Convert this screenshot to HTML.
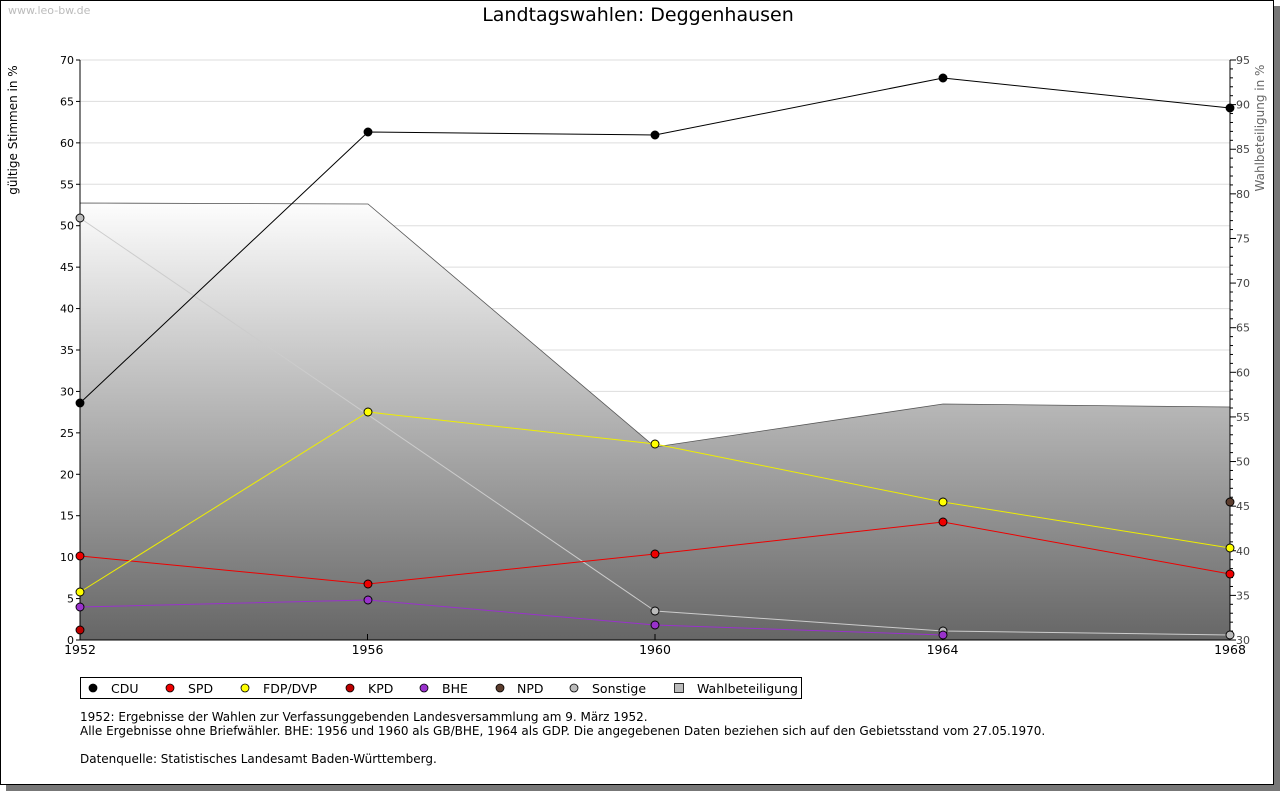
<!DOCTYPE html><html><head><style>body{margin:0;background:#fff}svg{display:block;font-family:"DejaVu Sans","Liberation Sans",sans-serif}</style></head><body>
<svg width="1280" height="791" xmlns="http://www.w3.org/2000/svg">
<defs><linearGradient id="g" x1="0" y1="203" x2="0" y2="640" gradientUnits="userSpaceOnUse"><stop offset="0" stop-color="#fdfdfd"/><stop offset="1" stop-color="#666"/></linearGradient></defs>
<rect x="6" y="6" width="1274" height="785" fill="#777"/>
<rect x="0.5" y="0.5" width="1273" height="784" fill="#fff" stroke="#000"/>
<text x="8" y="14" font-size="11" fill="#bbb">www.leo-bw.de</text>
<text x="638" y="21" font-size="19" text-anchor="middle">Landtagswahlen: Deggenhausen</text>
<g stroke="#ddd" stroke-width="1" id="grid"></g>
<polygon points="80,203 368,204 655,447 943,404 1230,407 1230,640 80,640" fill="url(#g)" stroke="#555" stroke-width="0.8"/>
<line x1="80" y1="640" x2="1230" y2="640" stroke="#000"/>
<line x1="80" y1="60" x2="80" y2="640" stroke="#000"/>
<line x1="1230" y1="60" x2="1230" y2="640" stroke="#000"/>
<g id="ax" font-size="11"></g>
<text transform="translate(17,130) rotate(-90)" font-size="12" text-anchor="middle">gültige Stimmen in %</text>
<text transform="translate(1264,128) rotate(-90)" font-size="12" text-anchor="middle" fill="#666">Wahlbeteiligung in %</text>
<g fill="none" stroke-width="1">
<polyline points="80,218 655,611 943,631 1230,635" stroke="#ccc"/>
<polyline points="80,607 368,600 655,625 943,635" stroke="#9932cc"/>
<polyline points="80,556 368,584 655,554 943,522 1230,574" stroke="#e00"/>
<polyline points="80,592 368,412 655,444 943,502 1230,548" stroke="#ee0"/>
<polyline points="80,403 368,132 655,135 943,78 1230,108" stroke="#000"/>
</g>
<g stroke="#000" stroke-width="0.9" id="mk"></g>
<rect x="80.5" y="677.5" width="721" height="21" fill="#fff" stroke="#000"/>
<g font-size="12.5" stroke="#000" stroke-width="0.8">
<circle cx="93" cy="688" r="4" fill="#000"/><text x="111" y="693" stroke="none">CDU</text>
<circle cx="170" cy="688" r="4" fill="#e00"/><text x="188" y="693" stroke="none">SPD</text>
<circle cx="245" cy="688" r="4" fill="#ff0"/><text x="263" y="693" stroke="none">FDP/DVP</text>
<circle cx="350" cy="688" r="4" fill="#b00"/><text x="368" y="693" stroke="none">KPD</text>
<circle cx="424" cy="688" r="4" fill="#9932cc"/><text x="442" y="693" stroke="none">BHE</text>
<circle cx="500" cy="688" r="4" fill="#5c3d2e"/><text x="517" y="693" stroke="none">NPD</text>
<circle cx="574" cy="688" r="4" fill="#bbb"/><text x="592" y="693" stroke="none">Sonstige</text>
<rect x="674.5" y="683.5" width="9" height="9" fill="#bbb"/><text x="697" y="693" stroke="none">Wahlbeteiligung</text>
</g>
<g font-size="12">
<text x="80" y="721">1952: Ergebnisse der Wahlen zur Verfassunggebenden Landesversammlung am 9. März 1952.</text>
<text x="80" y="735">Alle Ergebnisse ohne Briefwähler. BHE: 1956 und 1960 als GB/BHE, 1964 als GDP. Die angegebenen Daten beziehen sich auf den Gebietsstand vom 27.05.1970.</text>
<text x="80" y="763">Datenquelle: Statistisches Landesamt Baden-Württemberg.</text>
</g>
<script>
var ns="http://www.w3.org/2000/svg",g=document.getElementById("grid"),a=document.getElementById("ax"),m=document.getElementById("mk");
function el(p,t,at,tx){var e=document.createElementNS(ns,t);for(var k in at)e.setAttribute(k,at[k]);if(tx!=null)e.textContent=tx;p.appendChild(e);return e;}
for(var v=5;v<=70;v+=5){var y=640-v*580/70;el(g,"line",{x1:80,x2:1230,y1:y,y2:y});}
for(var v=0;v<=70;v+=5){var y=640-v*580/70;el(a,"line",{x1:76,x2:80,y1:y,y2:y,stroke:"#000"});el(a,"text",{x:74,y:y+4,"text-anchor":"end"},v);}
for(var v=30;v<=95;v++){var y=640-(v-30)*580/65;el(a,"line",{x1:1230,x2:v%5?1233:1236,y1:y,y2:y,stroke:"#000"});if(v%5==0)el(a,"text",{x:1236,y:y+4,fill:"#444"},v);}
var ys=[1952,1956,1960,1964,1968];for(var i=0;i<5;i++){var x=80+i*287.5;el(a,"line",{x1:x,x2:x,y1:634,y2:640,stroke:"#000"});el(a,"text",{x:x,y:654,"text-anchor":"middle","font-size":"12.5"},ys[i]);}
var S=[["#bbb",[[80,218],[655,611],[943,631],[1230,635]]],["#9932cc",[[80,607],[368,600],[655,625],[943,635]]],["#e00",[[80,556],[368,584],[655,554],[943,522],[1230,574]]],["#ff0",[[80,592],[368,412],[655,444],[943,502],[1230,548]]],["#000",[[80,403],[368,132],[655,135],[943,78],[1230,108]]],["#b00",[[80,630]]],["#5c3d2e",[[1230,502]]]];
S.forEach(function(s){s[1].forEach(function(p){el(m,"circle",{cx:p[0],cy:p[1],r:4,fill:s[0]});});});
</script>
</svg></body></html>
